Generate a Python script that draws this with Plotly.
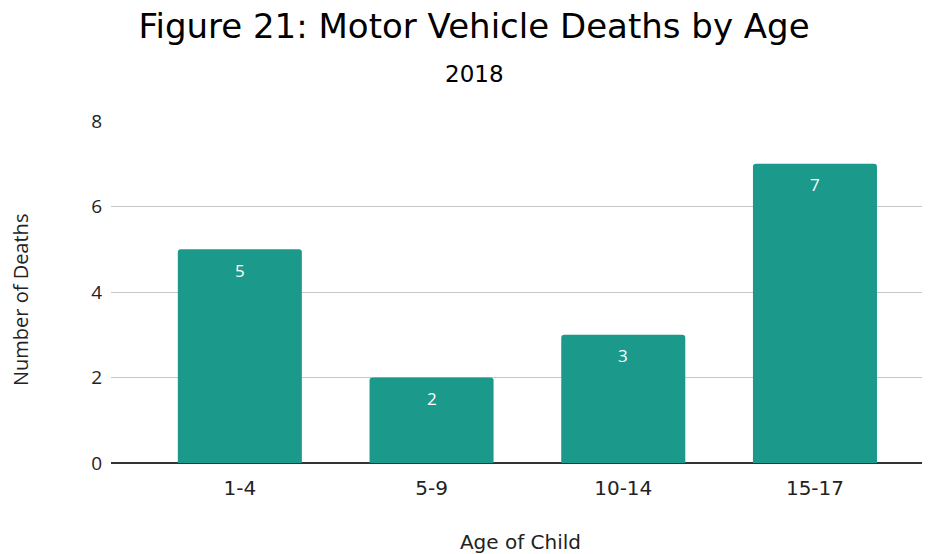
import plotly.graph_objects as go

categories = ["1-4", "5-9", "10-14", "15-17"]
deaths = [5, 2, 3, 7]
y_ticks = [0, 2, 4, 6, 8]

title_font = "DejaVu Sans, Verdana, sans-serif"
body_font = "Open Sans, Noto Sans, sans-serif"

xs = list(range(len(categories)))

fig = go.Figure()
fig.add_trace(go.Bar(
    x=xs,
    y=deaths,
    width=0.647,
    marker=dict(color="#1b998b", cornerradius=3, line=dict(width=0)),
    hoverinfo="skip",
))

annotations = [
    dict(x=x, y=v, xref="x", yref="y", text=str(v), showarrow=False,
         yanchor="middle", yshift=-21,
         font=dict(family=body_font, size=17, color="white"))
    for x, v in zip(xs, deaths)
]
annotations.append(dict(text="2018", xref="paper", yref="paper", x=0.4438, xanchor="center",
                        y=1.0, yshift=47.5, yanchor="middle", showarrow=False,
                        font=dict(family=title_font, size=23, color="#000")))
annotations.append(dict(text="Number of Deaths", xref="paper", yref="paper", x=0, xshift=-91,
                        y=0.4766, xanchor="center", yanchor="middle", textangle=-90,
                        showarrow=False,
                        font=dict(family=body_font, size=20, color="#222")))

fig.update_layout(
    width=922, height=546,
    margin=dict(l=103, r=0, t=113, b=91),
    paper_bgcolor="white", plot_bgcolor="white",
    showlegend=False,
    font=dict(family=body_font, color="#222"),
    title=dict(text="Figure 21: Motor Vehicle Deaths by Age", x=0.5054, xanchor="center",
               y=1 - 18 / 546, yanchor="middle",
               font=dict(family=title_font, size=34, color="#000")),
    annotations=annotations,
    xaxis=dict(
        tickmode="array", tickvals=xs, ticktext=categories,
        range=[-0.672, 3.6], showgrid=False, zeroline=False, showline=False,
        ticks="", ticklabelstandoff=11,
        tickfont=dict(family=title_font, size=20, color="#222"),
        title=dict(text="Age of Child", font=dict(family=title_font, size=20, color="#222"),
                   standoff=36),
    ),
    yaxis=dict(
        range=[0, 8], tickvals=y_ticks, showgrid=True, gridcolor="#c8c8c8", gridwidth=1,
        zeroline=True, zerolinecolor="#333333", zerolinewidth=1.5,
        ticks="", ticklabelstandoff=8, tickfont=dict(family=body_font, size=19, color="#222"),
    ),
)

fig.write_html("out.html")
